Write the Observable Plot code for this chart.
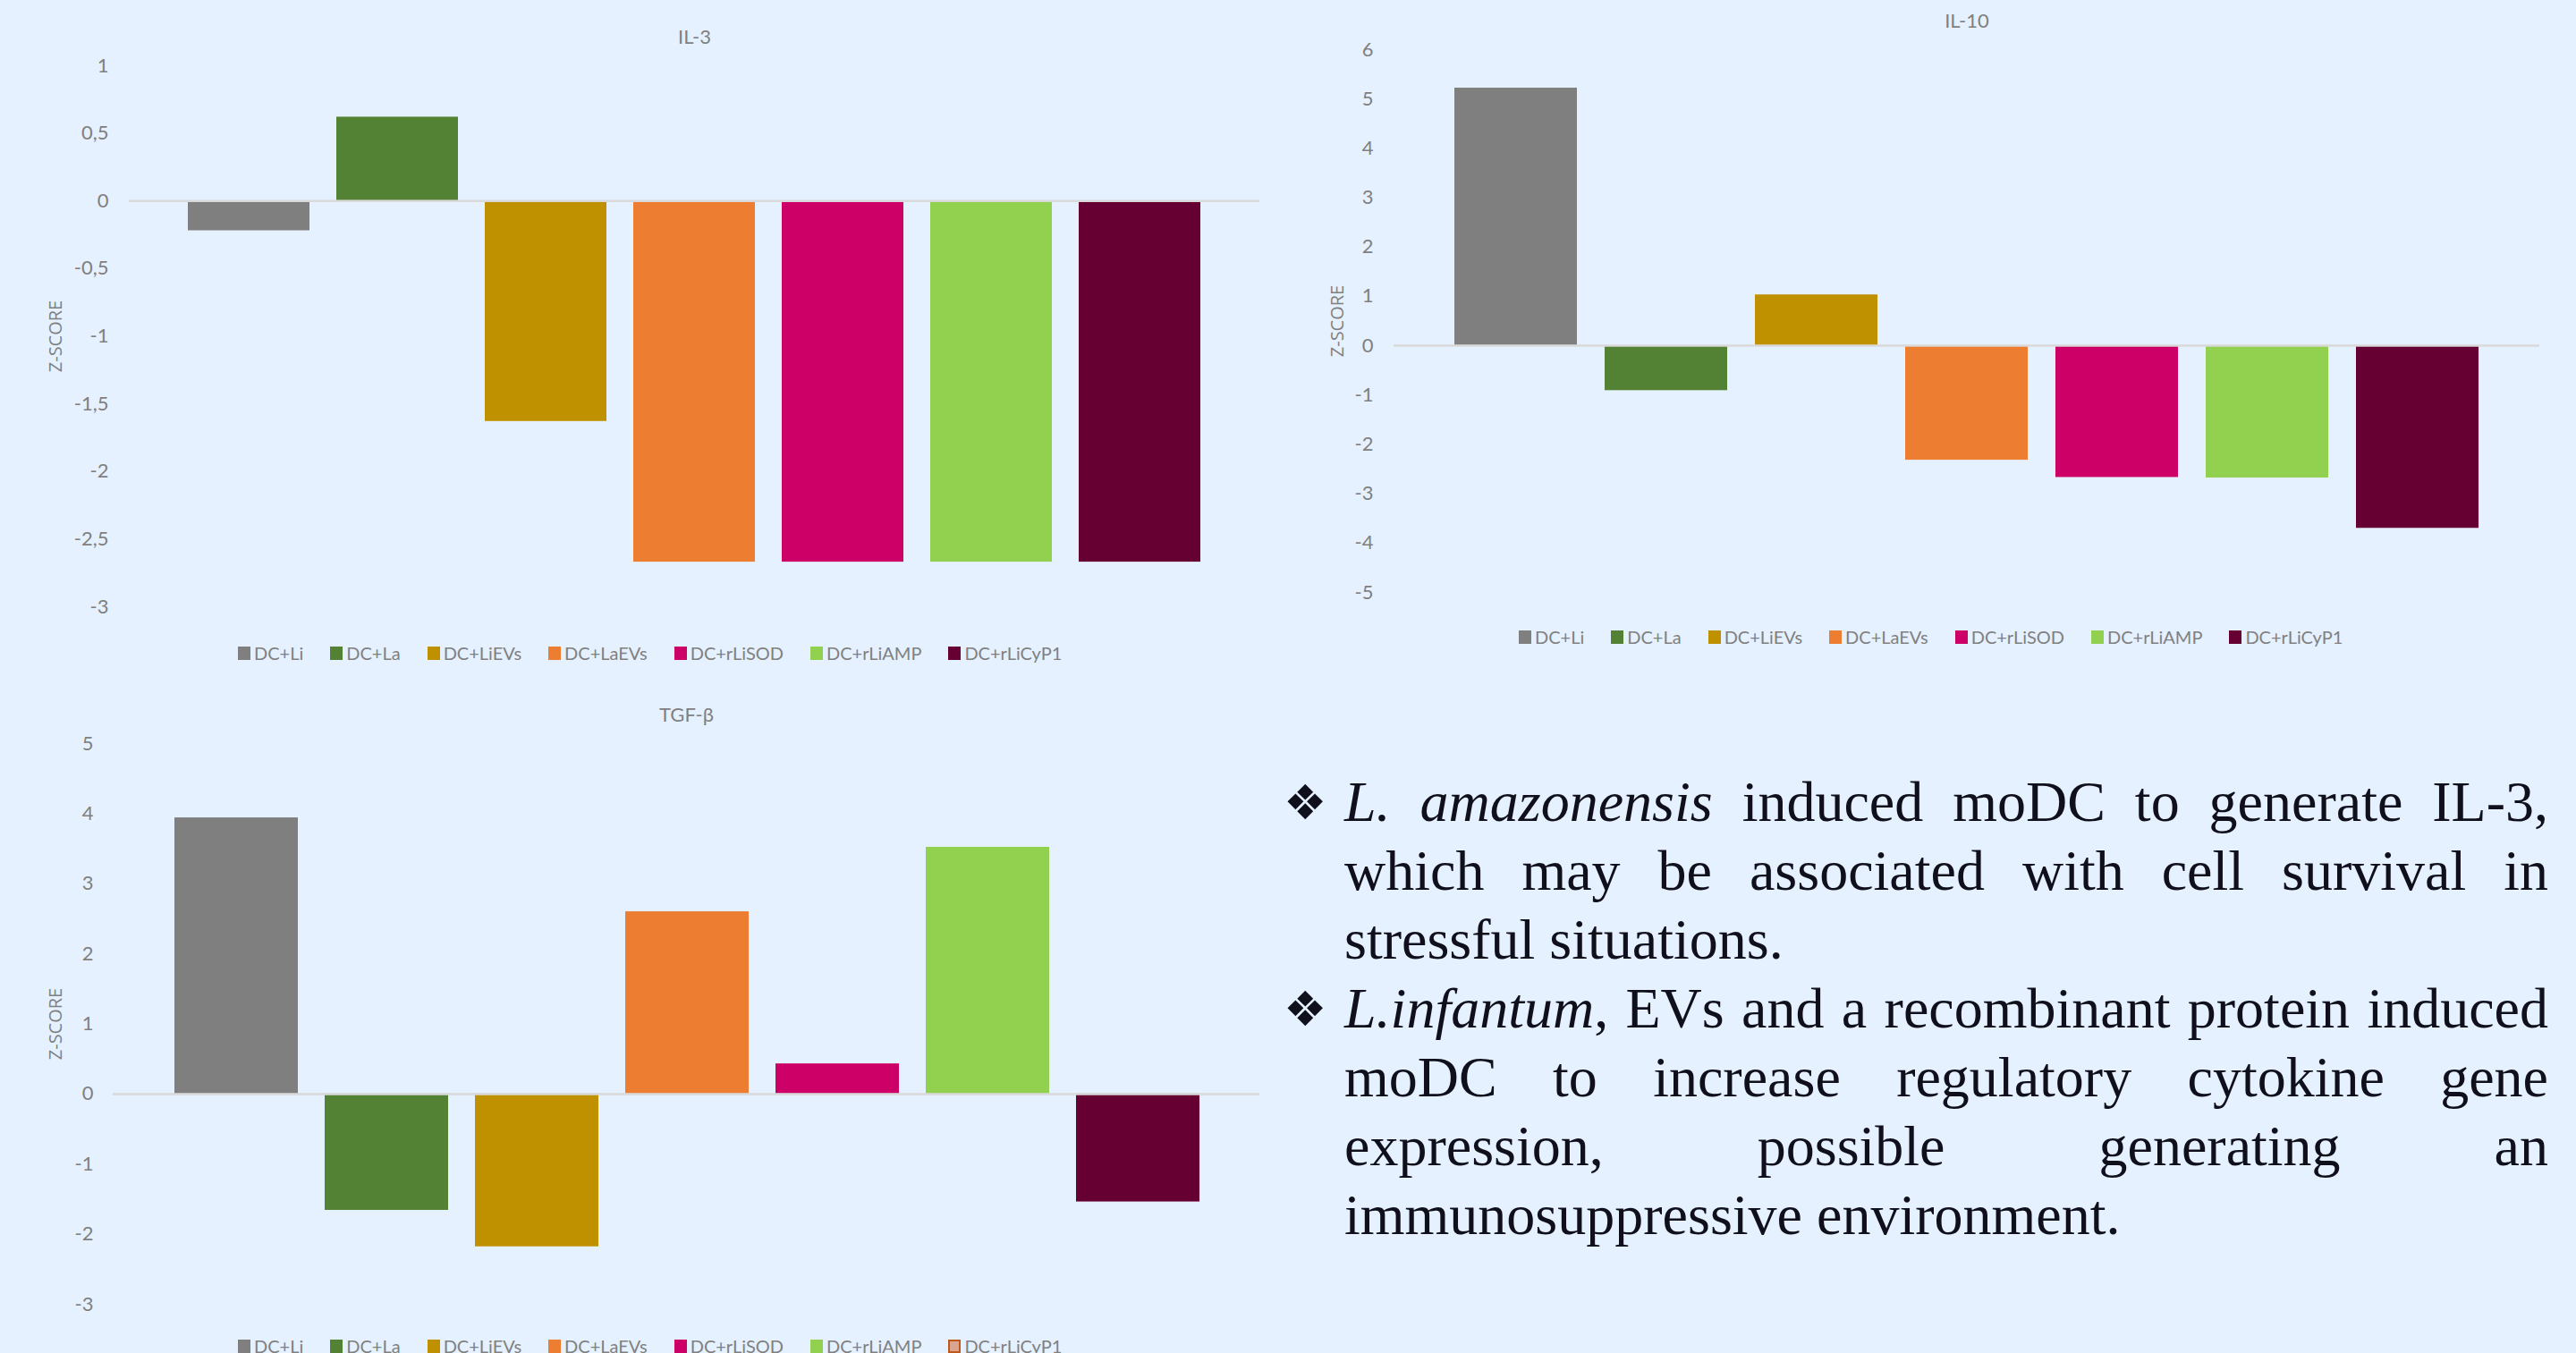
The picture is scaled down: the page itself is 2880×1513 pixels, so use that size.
<!DOCTYPE html>
<html>
<head>
<meta charset="utf-8">
<script src="https://cdn.jsdelivr.net/npm/d3@7"></script>
<script src="https://cdn.jsdelivr.net/npm/@observablehq/plot@0.6"></script>
<style>
  html, body { margin: 0; padding: 0; background: #E5F1FE; }
  body { width: 2880px; height: 1513px; overflow: hidden; position: relative; }
  .chart { position: absolute; }
  .chart svg { display: block; max-width: none; }
  .legend { position: absolute; display: flex; align-items: center; height: 30px;
            font-family: Lato, sans-serif; font-size: 20px; color: #808080; white-space: nowrap; }
  .legend .item { display: flex; align-items: center; margin-right: 30px; }
  .legend .sw { width: 14px; height: 15px; margin-right: 4px; box-sizing: border-box; }
  .notes { position: absolute; left: 1503px; top: 858px; width: 1346px;
           font-family: "Liberation Serif", "Times New Roman", serif; font-size: 64px; line-height: 77px; color: #10101c; }
  .notes .l { position: relative; text-align: justify; text-align-last: justify; height: 77px; }
  .notes .l.last { text-align: left; text-align-last: left; }
  .notes .b { position: absolute; left: -68px; top: 1px; font-family: "DejaVu Sans", sans-serif; font-size: 54px; }
</style>
</head>
<body>
<script>
// ---- data ----
const categories = ["DC+Li", "DC+La", "DC+LiEVs", "DC+LaEVs", "DC+rLiSOD", "DC+rLiAMP", "DC+rLiCyP1"];
const colors = ["#7F7F7F", "#548235", "#BF9000", "#ED7D31", "#CC0066", "#92D050", "#660033"];
const il3Values = [-0.22, 0.62, -1.63, -2.67, -2.67, -2.67, -2.67];
const il10Values = [5.22, -0.91, 1.03, -2.32, -2.67, -2.68, -3.70];
const tgfbValues = [3.94, -1.66, -2.18, 2.60, 0.43, 3.52, -1.54];
const il3Ticks = [1, 0.5, 0, -0.5, -1, -1.5, -2, -2.5, -3];
const il10Ticks = [6, 5, 4, 3, 2, 1, 0, -1, -2, -3, -4, -5];
const tgfbTicks = [5, 4, 3, 2, 1, 0, -1, -2, -3];
const chartTitles = ["IL-3", "IL-10", "TGF-β"];
const yLabel = "Z-SCORE";
const tgfbLegendLast = {fill: "#D8A690", stroke: "#C0581A"};

const notes = [
  [[{i: "L. amazonensis"}, " induced moDC to generate IL-3,"],
   ["which may be associated with cell survival in"],
   ["stressful situations."]],
  [[{i: "L.infantum"}, ", EVs and a recombinant protein induced"],
   ["moDC to increase regulatory cytokine gene"],
   ["expression, possible generating an"],
   ["immunosuppressive environment."]]
];

const fmt = d => String(d).replace(".", ",").replace("\u2212", "-");

function makeChart(cfg) {
  const data = categories.map((c, i) => ({category: c, value: cfg.values[i]}));
  const svg = Plot.plot({
    width: cfg.width, height: cfg.height,
    marginLeft: cfg.marginLeft, marginRight: cfg.marginRight,
    marginTop: cfg.marginTop, marginBottom: cfg.marginBottom,
    style: {background: "transparent", fontFamily: "Lato, sans-serif", fontSize: "22px", color: "#808080", overflow: "visible"},
    x: {type: "band", domain: categories, range: cfg.xRange, paddingInner: cfg.pad, paddingOuter: cfg.pad / 2, axis: null},
    y: {domain: [d3.min(cfg.ticks), d3.max(cfg.ticks)], axis: null},
    color: {domain: categories, range: colors},
    marks: [
      Plot.barY(data, {x: "category", y1: 0, y2: "value", fill: "category"}),
      Plot.ruleY([0], {stroke: "#D9D9D9", strokeWidth: 2.5}),
      Plot.axisY({ticks: cfg.ticks, tickSize: 0, tickPadding: cfg.tickPadding, tickFormat: fmt, fill: "#808080", label: null}),
      Plot.text([cfg.title], {frameAnchor: "top", lineAnchor: "middle", dy: cfg.titleDy, fill: "#808080", fontSize: 22}),
      Plot.text([yLabel], {frameAnchor: "left", textAnchor: "middle", lineAnchor: "middle", dx: cfg.labelDx, rotate: -90,
                           fill: "#808080", fontSize: 20, fontFamily: "'Open Sans', sans-serif"})
    ]
  });
  const div = document.createElement("div");
  div.className = "chart";
  div.style.left = cfg.left + "px";
  div.style.top = cfg.top + "px";
  div.style.width = cfg.width + "px";
  div.appendChild(svg);
  document.body.appendChild(div);
}

function makeLegend(left, centerY, last) {
  const lg = d3.select("body").append("div").attr("class", "legend")
    .style("left", left + "px").style("top", (centerY - 15) + "px");
  const items = lg.selectAll(".item").data(categories).join("div").attr("class", "item");
  items.append("div").attr("class", "sw")
    .style("background", (d, i) => (last && i === categories.length - 1) ? last.fill : colors[i])
    .style("border", (d, i) => (last && i === categories.length - 1) ? `2px solid ${last.stroke}` : "none");
  items.append("span").text(d => d);
}

makeChart({values: il3Values, ticks: il3Ticks, title: chartTitles[0], left: 0, top: 0, width: 1440, height: 700,
  marginLeft: 144, marginRight: 32, marginTop: 73, marginBottom: 22, xRange: [195, 1357], pad: 0.18,
  tickPadding: 23, titleDy: -32, labelDx: -82});
makeChart({values: il10Values, ticks: il10Ticks, title: chartTitles[1], left: 1440, top: 0, width: 1440, height: 700,
  marginLeft: 118, marginRight: 41, marginTop: 55, marginBottom: 38, xRange: [169.3, 1347.7], pad: 0.185,
  tickPadding: 23, titleDy: -32, labelDx: -63});
makeChart({values: tgfbValues, ticks: tgfbTicks, title: chartTitles[2], left: 0, top: 760, width: 1440, height: 720,
  marginLeft: 126, marginRight: 32, marginTop: 71, marginBottom: 22, xRange: [177.75, 1357.25], pad: 0.18,
  tickPadding: 22, titleDy: -32, labelDx: -64});

makeLegend(266, 730, null);
makeLegend(1698, 712, null);
makeLegend(266, 1505, tgfbLegendLast);

// ---- notes ----
const nd = d3.select("body").append("div").attr("class", "notes");
notes.forEach(par => {
  par.forEach((line, li) => {
    const l = nd.append("div").attr("class", "l" + (li === par.length - 1 ? " last" : ""));
    if (li === 0) l.append("span").attr("class", "b").text("\u2756");
    line.forEach(seg => {
      if (typeof seg === "string") l.append("span").text(seg);
      else l.append("i").text(seg.i);
    });
  });
});
</script>
</body>
</html>
